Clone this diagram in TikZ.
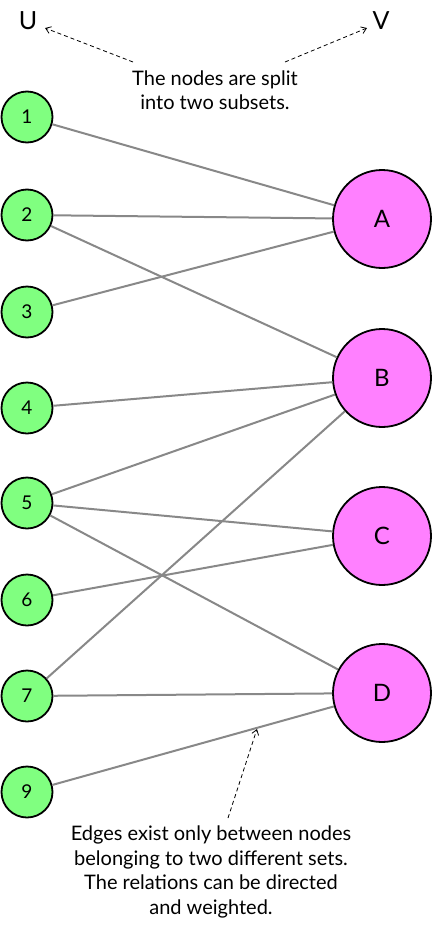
\documentclass[tikz,border=0pt]{standalone}
\usepackage{fontspec}
\setmainfont{Lato}
\usetikzlibrary{arrows.meta}
\begin{document}
\begin{tikzpicture}[x=1pt,y=-1pt,
  unode/.style={circle,draw=black,line width=1.8pt,fill={rgb,255:red,128;green,255;blue,128},minimum size=51pt,inner sep=0pt,font=\fontsize{19}{19}\selectfont},
  vnode/.style={circle,draw=black,line width=1.8pt,fill={rgb,255:red,255;green,128;blue,255},minimum size=98pt,inner sep=0pt,font=\fontsize{24}{24}\selectfont},
  edge/.style={draw={rgb,255:red,136;green,136;blue,136},line width=2pt},
  note/.style={align=center,font=\fontsize{20}{24.5}\selectfont},
  setlbl/.style={font=\fontsize{25}{25}\selectfont},
  pointer/.style={dashed,dash pattern=on 4pt off 3pt,line width=0.8pt,-{Straight Barb[length=5pt,width=7pt]}}
]
\useasboundingbox (0,0) rectangle (433,929);
% nodes
\node[unode] (n1) at (27,117) {1};
\node[unode] (n2) at (27,215) {2};
\node[unode] (n3) at (27,312) {3};
\node[unode] (n4) at (27,408) {4};
\node[unode] (n5) at (27,503) {5};
\node[unode] (n6) at (27,600) {6};
\node[unode] (n7) at (27,696) {7};
\node[unode] (n9) at (27,792) {9};
\node[vnode] (A) at (382,219) {A};
\node[vnode] (B) at (382,378) {B};
\node[vnode] (C) at (382,536) {C};
\node[vnode] (D) at (382,693) {D};
% edges
\draw[edge] (n1) -- (A);
\draw[edge] (n2) -- (A);
\draw[edge] (n2) -- (B);
\draw[edge] (n3) -- (A);
\draw[edge] (n4) -- (B);
\draw[edge] (n5) -- (B);
\draw[edge] (n5) -- (C);
\draw[edge] (n5) -- (D);
\draw[edge] (n6) -- (C);
\draw[edge] (n7) -- (B);
\draw[edge] (n7) -- (D);
\draw[edge] (n9) -- (D);
% labels
\node[setlbl] (U) at (28,21) {U};
\node[setlbl] (V) at (381,21) {V};
\node[note] (top) at (215,90) {The nodes are split\\into two subsets.};
\node[note] (bot) at (211,872) {Edges exist only between nodes\\belonging to two different sets.\\The relations can be directed\\and weighted.};
\coordinate (ut) at (45,28);
\coordinate (vt) at (367,28);
\coordinate (us) at (133,62);
\coordinate (vs) at (285,62);
\coordinate (bs) at (228,818);
\coordinate (bt) at (257,729);
\draw[pointer] (us) -- (ut);
\draw[pointer] (vs) -- (vt);
\draw[pointer] (bs) -- (bt);
\end{tikzpicture}
\end{document}
